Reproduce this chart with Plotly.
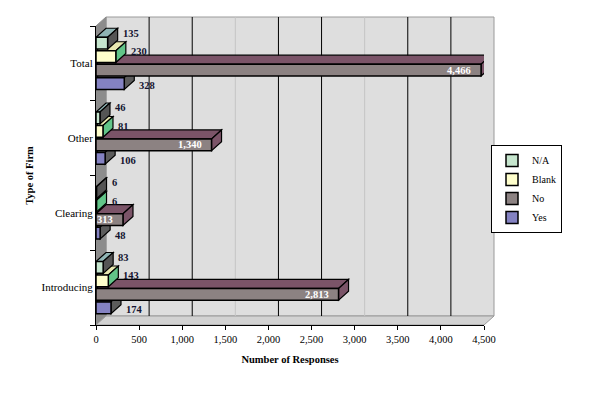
import plotly.graph_objects as go

# ---- data ----
categories = ["Introducing", "Clearing", "Other", "Total"]
series_names = ["Yes", "No", "Blank", "N/A"]          # bottom-to-top within a group
yes_vals = [174, 48, 106, 328]
no_vals = [2813, 313, 1340, 4466]
blank_vals = [143, 6, 81, 230]
na_vals = [83, 6, 46, 135]
x_ticks = [0, 500, 1000, 1500, 2000, 2500, 3000, 3500, 4000, 4500]

series_vals = [yes_vals, no_vals, blank_vals, na_vals]

# ---- styles ----
front_cols = ["#8482c2", "#8c8282", "#ffffcc", "#c6e6ce"]
top_cols = ["#707070", "#7b5468", "#e8e8b0", "#8fb4b4"]
side_cols = ["#5c5c5c", "#7b5468", "#62c488", "#555555"]
label_dy = [-2, 0, 5, 10]
FONT = "Liberation Serif"

OFF = 8                               # page body margin
W, H = 599 - OFF, 393 - OFF
L, R, T, B = 96 - OFF, 115, 26 - OFF, 68
PW, PH = W - L - R, H - T - B
DXP, DYP = 10, 9                     # 3-D depth in pixels
XMAX = x_ticks[-1]
dx = DXP * XMAX / PW                 # depth in data units
dy = DYP * len(categories) / PH

bargap, groupgap = 0.28, 0.12
slot = (1 - bargap) / len(series_names)
hw = slot * (1 - groupgap) / 2

fig = go.Figure()
for k, name in enumerate(series_names):
    fig.add_trace(go.Bar(
        y=categories, x=series_vals[k], name=name, orientation="h",
        marker=dict(color=front_cols[k], line=dict(color="black", width=1.5)),
        hoverinfo="x+y+name",
    ))

shapes = []
# walls and floor (paper coords)
px = DXP / PW
py = DYP / PH
shapes.append(dict(type="rect", xref="paper", yref="paper", x0=px, x1=1 + px, y0=py, y1=1 + py,
                   fillcolor="#dedede", line=dict(color="#9a9a9a", width=1), layer="below"))
shapes.append(dict(type="path", xref="paper", yref="paper",
                   path=f"M 0,0 L 0,1 L {px},{1+py} L {px},{py} Z",
                   fillcolor="#8c8c8c", line=dict(color="#8c8c8c", width=1), layer="below"))
shapes.append(dict(type="path", xref="paper", yref="paper",
                   path=f"M 0,0 L 1,0 L {1+px},{py} L {px},{py} Z",
                   fillcolor="#d2d2d2", line=dict(color="#9a9a9a", width=1), layer="below"))
# gridlines on the back wall
for v in x_ticks[1:-1]:
    faint = v in (1500, 3000)
    shapes.append(dict(type="line", xref="x", yref="paper", x0=v + dx, x1=v + dx, y0=py, y1=1 + py,
                       line=dict(color="#c4c4c4" if faint else "black", width=1), layer="below"))

# depth faces for each bar
for k in range(len(series_names)):
    off = -(1 - bargap) / 2 + slot * (k + 0.5)
    for i, v in enumerate(series_vals[k]):
        yc = i + off
        yt, yb = yc + hw, yc - hw
        shapes.append(dict(type="path", xref="x", yref="y", layer="below",
                           path=f"M 0,{yt} L {v},{yt} L {v+dx},{yt+dy} L {dx},{yt+dy} Z",
                           fillcolor=top_cols[k], line=dict(color="black", width=1.2)))
        shapes.append(dict(type="path", xref="x", yref="y", layer="below",
                           path=f"M {v},{yb} L {v},{yt} L {v+dx},{yt+dy} L {v+dx},{yb+dy} Z",
                           fillcolor=side_cols[k], line=dict(color="black", width=1.2)))

annotations = []
for k, name in enumerate(series_names):
    off = -(1 - bargap) / 2 + slot * (k + 0.5)
    for i, v in enumerate(series_vals[k]):
        if name == "No":
            annotations.append(dict(x=v, y=i + off, xref="x", yref="y", text=f"{v:,}", showarrow=False,
                                    xanchor="right", xshift=-8, yshift=label_dy[k],
                                    font=dict(family=FONT, size=10.5, color="white", weight="bold")))
        else:
            annotations.append(dict(x=v, y=i + off, xref="x", yref="y", text=f"{v:,}", showarrow=False,
                                    xanchor="left", xshift=13, yshift=label_dy[k],
                                    font=dict(family=FONT, size=10.5, color="#141430", weight="bold")))

fig.update_layout(
    width=W, height=H,
    margin=dict(l=L, r=R, t=T, b=B, pad=0, autoexpand=False),
    paper_bgcolor="white", plot_bgcolor="rgba(0,0,0,0)",
    barmode="group", bargap=bargap, bargroupgap=groupgap,
    font=dict(family=FONT, size=10, color="black"),
    shapes=shapes, annotations=annotations,
    showlegend=True,
    legend=dict(traceorder="reversed", x=(562 - OFF - L) / PW, xanchor="right",
                y=1 - (189 - OFF - T) / PH,
                yanchor="middle", bordercolor="black", borderwidth=1, bgcolor="white",
                font=dict(family=FONT, size=10), itemwidth=30, tracegroupgap=0),
    xaxis=dict(range=[0, XMAX], tickvals=x_ticks, tickformat=",", showgrid=False, zeroline=False,
               automargin=False,
               showline=True, linecolor="black", linewidth=1, ticks="outside", ticklen=4,
               tickcolor="black", tickfont=dict(family=FONT, size=10.5),
               title=dict(text="<b>Number of Responses</b>", standoff=12,
                          font=dict(family=FONT, size=10.5))),
    yaxis=dict(type="category", categoryorder="array", categoryarray=categories,
               range=[-0.5, len(categories) - 0.5], tickson="boundaries", showgrid=False,
               automargin=False,
               showline=True, linecolor="black", linewidth=1, ticks="outside", ticklen=5,
               tickcolor="black", tickfont=dict(family=FONT, size=11),
               title=dict(text="<b>Type of Firm</b>", standoff=5,
                          font=dict(family=FONT, size=10.5))),
)

fig.write_html("out.html")
